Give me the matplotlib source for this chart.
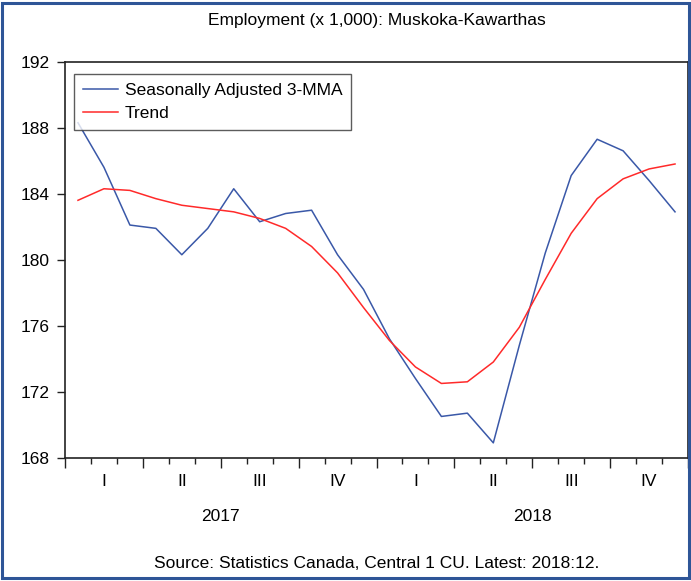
import matplotlib
matplotlib.use("Agg")
import matplotlib.pyplot as plt
from matplotlib.patches import Rectangle
from matplotlib.ticker import MultipleLocator, NullFormatter
import matplotlib.transforms as mtransforms

plt.rcParams['font.family'] = ['Liberation Sans', 'DejaVu Sans']

title = "Employment (x 1,000): Muskoka-Kawarthas"
source = "Source: Statistics Canada, Central 1 CU. Latest: 2018:12."
series_names = ["Seasonally Adjusted 3-MMA", "Trend"]
quarters = ["I", "II", "III", "IV", "I", "II", "III", "IV"]
years = ["2017", "2018"]
months = list(range(24))  # Jan 2017 .. Dec 2018

sa_3mma = [188.3, 185.6, 182.1, 181.9, 180.3, 181.9, 184.3, 182.3, 182.8, 183.0,
           180.3, 178.2, 175.2, 172.8, 170.5, 170.7, 168.9, 174.8, 180.4, 185.1,
           187.3, 186.6, 184.8, 182.9]
trend = [183.6, 184.3, 184.2, 183.7, 183.3, 183.1, 182.9, 182.5, 181.9, 180.8,
         179.2, 177.1, 175.1, 173.5, 172.5, 172.6, 173.8, 175.9, 178.8, 181.6,
         183.7, 184.9, 185.5, 185.8]

W, H = 691, 581
fig = plt.figure(figsize=(W / 100, H / 100), dpi=100)
ax = fig.add_axes([65 / W, 1 - 457.7 / H, (688 - 65) / W, (457.7 - 61.7) / H])

xs = [m + 0.5 for m in months]
ax.plot(xs, sa_3mma, color='#3A58A8', lw=1.1, label=series_names[0])
ax.plot(xs, trend, color='#FF2A2A', lw=1.1, label=series_names[1])

ax.set_xlim(0, 24)
ax.set_ylim(168, 192)
ax.yaxis.set_major_locator(MultipleLocator(4))
ax.xaxis.set_major_locator(MultipleLocator(3))
ax.xaxis.set_minor_locator(MultipleLocator(1))
ax.xaxis.set_major_formatter(NullFormatter())
ax.tick_params(axis='y', direction='out', length=6, width=1, pad=5, labelsize=12.5, color='#222222')
ax.tick_params(axis='x', which='major', direction='out', length=7, width=1, color='#222222')
ax.tick_params(axis='x', which='minor', direction='out', length=4, width=1, color='#222222')
ax.tick_params(right=False, top=False)
for s in ax.spines.values():
    s.set_linewidth(1.2)
    s.set_color('#222222')

trans = mtransforms.blended_transform_factory(ax.transData, fig.transFigure)
for q, lab in enumerate(quarters):
    ax.text(q * 3 + 1.5, 1 - 481.5 / H, lab, transform=trans, ha='center', va='center', fontsize=12.5)
for y, lab in enumerate(years):
    ax.text(y * 12 + 6, 1 - 516.5 / H, lab, transform=trans, ha='center', va='center', fontsize=12.5)

fig.text(376.5 / W, 1 - 20.5 / H, title, ha='center', va='center', fontsize=12.5)
fig.text(376.5 / W, 1 - 563 / H, source, ha='center', va='center', fontsize=12.5)

leg = ax.legend(loc='upper left', bbox_to_anchor=((74 - 65) / (688 - 65), 1 - (74.3 - 61.7) / (457.7 - 61.7)),
                frameon=True, fancybox=False, edgecolor='#333333', fontsize=12.5,
                handlelength=2.0, handletextpad=0.4, borderpad=0.52, labelspacing=0.41,
                borderaxespad=0)
leg.get_frame().set_linewidth(1.0)

fig.patches.append(Rectangle((1.5 / W, 3 / H), (689 - 1.5) / W, (578 - 3) / H,
                             transform=fig.transFigure, fill=False,
                             edgecolor='#2E5597', lw=2.2))

fig.savefig('out.png', dpi=100)
